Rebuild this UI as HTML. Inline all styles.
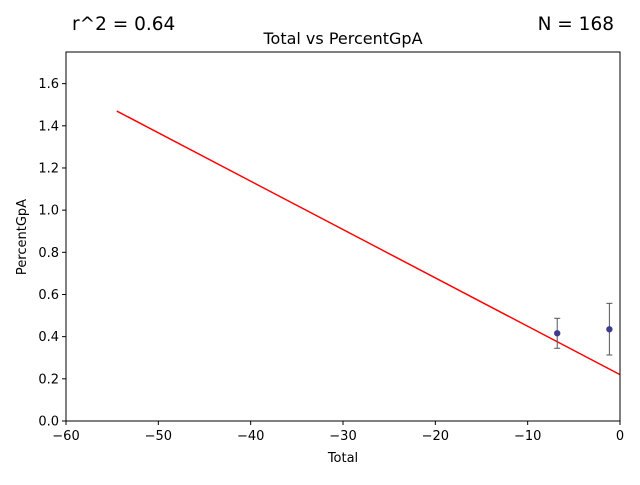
<!DOCTYPE html>
<html><head><meta charset="utf-8"><style>
body{margin:0;background:#fff;font-family:"Liberation Sans","DejaVu Sans",sans-serif}
svg text{font-family:"DejaVu Sans","Liberation Sans",sans-serif}
</style></head><body>
<svg id="chart" width="640" height="480" xmlns="http://www.w3.org/2000/svg"></svg>
<script>
const xTicks=[-60,-50,-40,-30,-20,-10,0];
const yTicks=[0.0,0.2,0.4,0.6,0.8,1.0,1.2,1.4,1.6];
const pointX=[-6.8,-1.15];
const pointY=[0.416,0.435];
const errLow=[0.345,0.313];
const errHigh=[0.487,0.558];
const fitX=[-54.5,0];
const fitY=[1.47,0.22];
const L=66,R=620,T=52,B=421,xmin=-60,xmax=0,ymin=0,ymax=1.75;
const sx=v=>L+(v-xmin)/(xmax-xmin)*(R-L);
const sy=v=>B-(v-ymin)/(ymax-ymin)*(B-T);
const svg=document.getElementById('chart');
const NS='http://www.w3.org/2000/svg';
function mk(t,a,p){const e=document.createElementNS(NS,t);for(const k in a)e.setAttribute(k,a[k]);(p||svg).appendChild(e);return e;}
const fl=mk('line',{x1:sx(fitX[0]),y1:sy(fitY[0]),x2:sx(fitX[1]),y2:sy(fitY[1]),stroke:'#ff0000','stroke-width':1.5});


for(let i=0;i<pointX.length;i++){
  const g=mk('g',{});
  
  
  const x=sx(pointX[i]);
  mk('line',{x1:x,x2:x,y1:sy(errLow[i]),y2:sy(errHigh[i]),stroke:'#555','stroke-width':1},g);
  mk('line',{x1:x-3,x2:x+3,y1:sy(errLow[i]),y2:sy(errLow[i]),stroke:'#555','stroke-width':1},g);
  mk('line',{x1:x-3,x2:x+3,y1:sy(errHigh[i]),y2:sy(errHigh[i]),stroke:'#555','stroke-width':1},g);
  mk('circle',{cx:x,cy:sy(pointY[i]),r:3.2,fill:'#3f3c8f'},g);
}
const frame=mk('rect',{x:L,y:T,width:R-L,height:B-T,fill:'none',stroke:'#000','stroke-width':1});


xTicks.forEach(v=>{const x=sx(v);mk('line',{x1:x,x2:x,y1:B,y2:B+4,stroke:'#000'});
  const t=mk('text',{x:x,y:B+19,'text-anchor':'middle','font-size':13});t.textContent=v===0?'0':'\u2212'+Math.abs(v);
  });
yTicks.forEach(v=>{const y=sy(v);mk('line',{x1:L-4,x2:L,y1:y,y2:y,stroke:'#000'});
  const t=mk('text',{x:L-7,y:y+4.5,'text-anchor':'end','font-size':13});t.textContent=v.toFixed(1);
  });
function txt(s,a,name){const t=mk('text',a);t.textContent=s;}
txt('Total',{x:343,y:462,'text-anchor':'middle','font-size':13},'x-axis-title');
txt('PercentGpA',{x:26,y:237,'text-anchor':'middle','font-size':13,transform:'rotate(-90 26 237)'},'y-axis-title');
txt('Total vs PercentGpA',{x:343,y:44,'text-anchor':'middle','font-size':16},'chart-title');
txt('r^2 = 0.64',{x:72,y:30,'font-size':18.5},'r-squared-label');
txt('N = 168',{x:614,y:30,'text-anchor':'end','font-size':18.5},'n-label');
</script>
</body></html>
